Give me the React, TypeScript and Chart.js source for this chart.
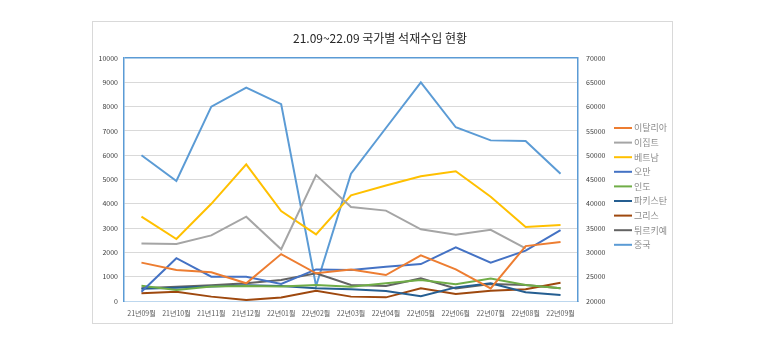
import React, { useEffect, useRef } from "react";
import { Chart, registerables } from "chart.js";

Chart.register(...registerables);

const categories = ["21년09월", "21년10월", "21년11월", "21년12월", "22년01월", "22년02월", "22년03월", "22년04월", "22년05월", "22년06월", "22년07월", "22년08월", "22년09월"];

const italy = [1580, 1280, 1180, 730, 1930, 1140, 1300, 1070, 1880, 1300, 520, 2260, 2430];
const egypt = [2370, 2350, 2700, 3470, 2130, 5180, 3870, 3720, 2950, 2730, 2930, 2170, null];
const vietnam = [3470, 2550, 4000, 5620, 3700, 2740, 4350, 4750, 5130, 5340, 4290, 3050, 3130];
const oman = [380, 1760, 1000, 1000, 700, 1300, 1280, 1410, 1520, 2210, 1580, 2070, 2920];
const india = [630, 450, 600, 620, 600, 660, 590, 730, 860, 690, 930, 660, 520];
const pakistan = [500, 550, 600, 650, 620, 520, 480, 410, 200, 560, 730, 360, 250];
const greece = [320, 380, 180, 40, 140, 420, 180, 150, 520, 290, 420, 480, 750];
const turkey = [520, 590, 650, 730, 860, 1140, 660, 620, 930, 520, 700, 660, 520];
const china = [50000, 44700, 60000, 63900, 60500, 23100, 46200, 55600, 65000, 55750, 53050, 52900, 46200];

const seriesNames = ["이탈리아", "이집트", "베트남", "오만", "인도", "파키스탄", "그리스", "튀르키예", "중국"];
const seriesColors = ["#ED7D31", "#A5A5A5", "#FFC000", "#4472C4", "#70AD47", "#255E91", "#9E480E", "#636363", "#5B9BD5"];
const seriesValues = [italy, egypt, vietnam, oman, india, pakistan, greece, turkey, china];

const leftTicksMax = 10000;
const rightMin = 20000;
const rightMax = 70000;

const FONT = "'Noto Sans CJK KR', 'Noto Sans', sans-serif";

const framePlugin = {
  id: "frame",
  beforeDraw(chart: any) {
    const ctx = chart.ctx;
    ctx.save();
    ctx.fillStyle = "#ffffff";
    ctx.fillRect(0, 0, chart.width, chart.height);
    ctx.strokeStyle = "#d9d9d9";
    ctx.lineWidth = 1;
    ctx.strokeRect(92.5, 21.5, 580, 302);
    ctx.restore();
  },
  afterDraw(chart: any) {
    const ctx = chart.ctx;
    ctx.save();
    ctx.font = `9px ${FONT}`;
    ctx.textBaseline = "middle";
    ctx.textAlign = "left";
    chart.data.datasets.forEach((ds: any, i: number) => {
      const y = 128 + i * 14.6;
      ctx.strokeStyle = ds.borderColor;
      ctx.lineWidth = 2;
      ctx.beginPath();
      ctx.moveTo(614, y);
      ctx.lineTo(632, y);
      ctx.stroke();
      ctx.fillStyle = "#8c8c8c";
      ctx.fillText(ds.label, 634, y);
    });
    ctx.restore();
  },
};

export default function App() {
  const ref = useRef<HTMLCanvasElement>(null);
  useEffect(() => {
    if (!ref.current) return;
    const chart = new Chart(ref.current, {
      type: "line",
      data: {
        labels: categories,
        datasets: seriesNames.map((name, i) => ({
          label: name,
          data: seriesValues[i],
          borderColor: seriesColors[i],
          backgroundColor: seriesColors[i],
          borderWidth: 2,
          pointRadius: 0,
          tension: 0,
          spanGaps: false,
          yAxisID: name === "중국" ? "y1" : "y",
        })),
      },
      options: {
        animation: false,
        responsive: false,
        maintainAspectRatio: false,
        layout: { padding: 0 },
        plugins: {
          legend: { display: false },
          tooltip: { enabled: false },
          title: {
            display: true,
            text: "21.09~22.09 국가별 석재수입 현황",
            color: "#262626",
            font: { family: FONT, size: 12, weight: "normal" },
            padding: { top: 31, bottom: 12.6 },
          },
        },
        scales: {
          x: {
            offset: true,
            grid: { display: false },
            border: { color: "#bdd7ee", width: 1 },
            ticks: { font: { family: FONT, size: 7 }, color: "#595959", maxRotation: 0, autoSkip: false, padding: 0 },
            afterFit: (s: any) => { s.height = 59; },
          },
          y: {
            position: "left",
            min: 0,
            max: leftTicksMax,
            ticks: { stepSize: 1000, font: { family: FONT, size: 7 }, color: "#404040", padding: 6, callback: (v: any) => String(v) },
            grid: { color: (c: any) => (c.tick && c.tick.value === leftTicksMax ? "#5B9BD5" : "#d9d9d9"), drawTicks: false, lineWidth: (c: any) => (c.tick && c.tick.value === leftTicksMax ? 1.5 : 1) },
            border: { color: "#5B9BD5", width: 1.5 },
            afterFit: (s: any) => { s.width = 124; },
          },
          y1: {
            position: "right",
            min: rightMin,
            max: rightMax,
            ticks: { stepSize: 5000, font: { family: FONT, size: 7 }, color: "#404040", padding: 8, callback: (v: any) => String(v) },
            grid: { display: false, drawTicks: false },
            border: { color: "#5B9BD5", width: 1.5 },
            afterFit: (s: any) => { s.width = 182; },
          },
        },
      } as any,
      plugins: [framePlugin],
    });
    return () => chart.destroy();
  }, []);
  return (
    <div style={{ position: "absolute", left: 0, top: 0, width: 760, height: 360, background: "#fff" }}>
      <canvas ref={ref} width={760} height={360} style={{ width: 760, height: 360, display: "block" }} />
    </div>
  );
}
